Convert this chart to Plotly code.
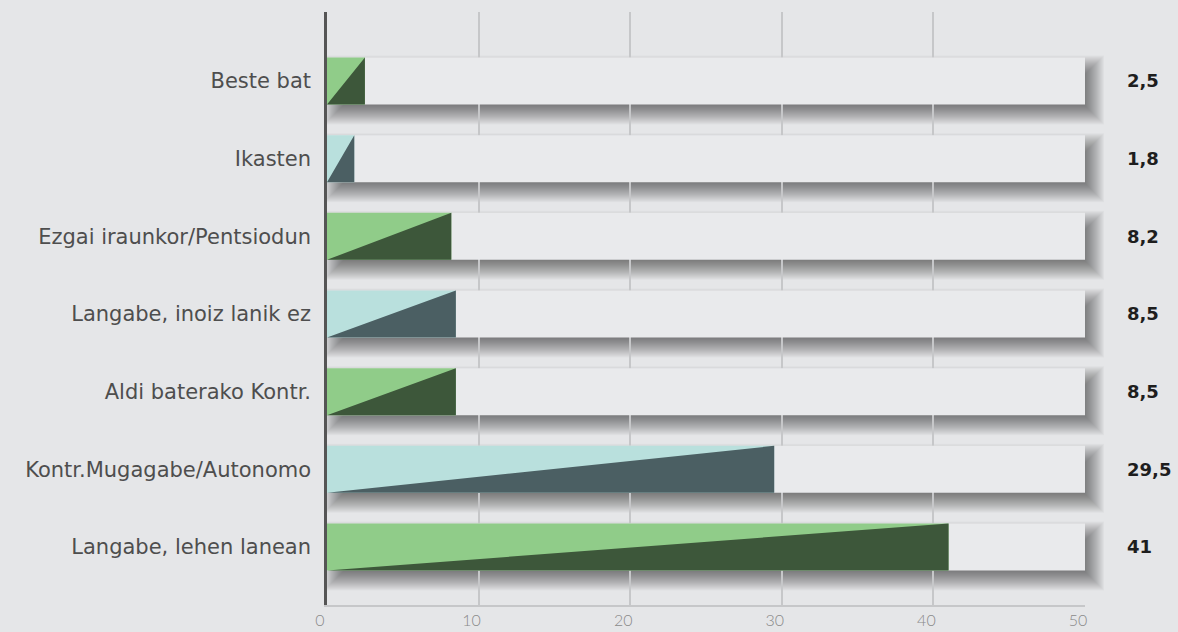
import plotly.graph_objects as go

# ---- data (bottom to top) ----
categories = ["Langabe, lehen lanean", "Kontr.Mugagabe/Autonomo", "Aldi baterako Kontr.",
              "Langabe, inoiz lanik ez", "Ezgai iraunkor/Pentsiodun", "Ikasten", "Beste bat"]
values = [41, 29.5, 8.5, 8.5, 8.2, 1.8, 2.5]
value_labels = ["41", "29,5", "8,5", "8,5", "8,2", "1,8", "2,5"]
x_ticks = [0, 10, 20, 30, 40, 50]
x_max = 50

# ---- style ----
W, H = 1178, 632
ML, MR, MT, MB = 327, 93, 12, 27
Y_RANGE = [-0.747, 6.888]
BAR_W = 0.605
PAPER = "#E5E6E8"
TRACK = "#E9EAEC"
LIGHT = ["#90CC89", "#B9E0DD"]
DARK = ["#3D573A", "#4B5F63"]

PW, PH = W - ML - MR, H - MT - MB
sx = PW / x_max
sy = PH / (Y_RANGE[1] - Y_RANGE[0])


def xp(v):  # data x -> paper fraction
    return v / x_max


def yp(v):  # data y -> paper fraction
    return (v - Y_RANGE[0]) / (Y_RANGE[1] - Y_RANGE[0])


fig = go.Figure()

# background tracks
fig.add_trace(go.Bar(y=list(range(len(categories))), x=[x_max] * len(categories), orientation="h",
                     width=BAR_W, marker=dict(color=TRACK, line=dict(width=0)),
                     hoverinfo="skip", showlegend=False))

# light part of value bars (full rectangle)
fig.add_trace(go.Bar(y=list(range(len(categories))), x=values, orientation="h", width=BAR_W,
                     marker=dict(color=[LIGHT[i % 2] for i in range(len(values))], line=dict(width=0)),
                     hoverinfo="skip", showlegend=False))

# dark triangles (bottom-right half)
for c in range(2):
    xs, ys = [], []
    for i, v in enumerate(values):
        if i % 2 != c:
            continue
        b, t = i - BAR_W / 2, i + BAR_W / 2
        xs += [0, v, v, 0, None]
        ys += [b, t, b, b, None]
    fig.add_trace(go.Scatter(x=xs, y=ys, fill="toself", fillcolor=DARK[c], mode="lines",
                             line=dict(width=0, color=DARK[c]), hoverinfo="skip", showlegend=False))

# soft drop shadows of tracks (paper refs so they may spill right of the plot area)
dx, dy, blur, n = 8, 9, 11, 23
shapes = []
for i in range(len(categories)):
    for k in range(n):
        e = -blur + 2 * blur * k / (n - 1)
        shapes.append(dict(type="rect", xref="paper", yref="paper", layer="below",
                           x0=xp(0) + (dx - e) / PW, x1=xp(x_max) + (dx + e) / PW,
                           y0=yp(i - BAR_W / 2) - (dy + e) / PH, y1=yp(i + BAR_W / 2) - (dy - e) / PH,
                           fillcolor="rgba(0,0,0,0.026)", line=dict(width=0)))

annotations = []
for i, lab in enumerate(value_labels):
    annotations.append(dict(x=1 + 40 / PW, y=i, xref="paper", yref="y", text=lab,
                            showarrow=False, xanchor="left", yanchor="middle",
                            font=dict(family="DejaVu Sans", size=18, color="#1E1E1E", weight="bold")))

fig.update_layout(
    width=W, height=H, margin=dict(l=ML, r=MR, t=MT, b=MB, autoexpand=False),
    paper_bgcolor=PAPER, plot_bgcolor=PAPER, barmode="overlay",
    shapes=shapes, annotations=annotations,
    xaxis=dict(range=[0, x_max], tickvals=x_ticks, showgrid=True, gridcolor="#C6C7C9", gridwidth=2,
               zeroline=False, showline=True, linecolor="#C6C7C9", linewidth=2, automargin=False,
               tickfont=dict(family="Lato", size=16, color="#8A8A8A", weight=300),
               ticklabelshift=-7, ticks=""),
    yaxis=dict(range=Y_RANGE, tickvals=list(range(len(categories))), ticktext=categories,
               showgrid=False, zeroline=False, showline=True, linecolor="#555555", linewidth=2.5,
               automargin=False,
               tickfont=dict(family="DejaVu Sans", size=21, color="#4E4E4E"), ticks="",
               ticklabelstandoff=9),
)

fig.write_html("out.html", config={"displayModeBar": False},
               post_script="document.body.style.margin='0';")
